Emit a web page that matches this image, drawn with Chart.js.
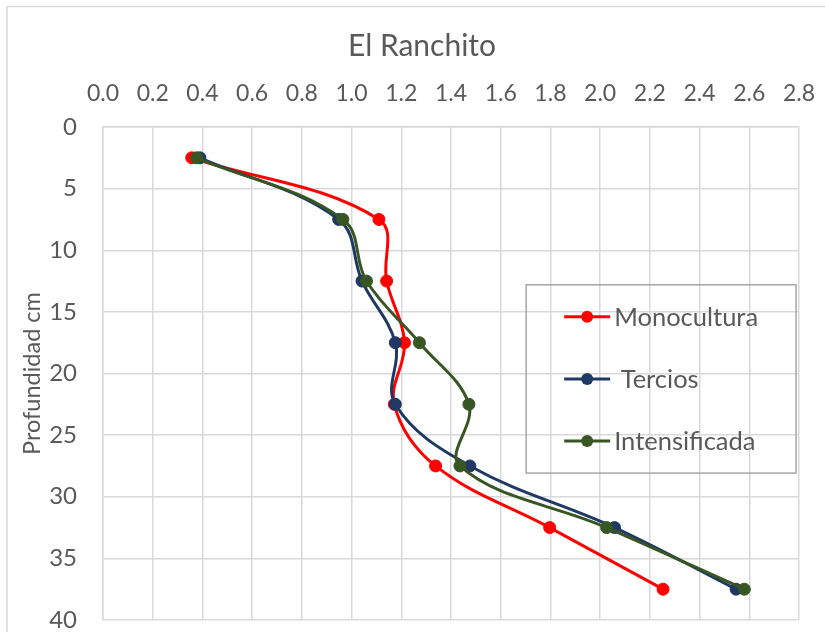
<!DOCTYPE html>
<html>
<head>
<meta charset="utf-8">
<script src="https://cdn.jsdelivr.net/npm/chart.js@4"></script>
<style>
  html, body { margin: 0; padding: 0; background: #ffffff; }
  #wrap { width: 825px; height: 632px; position: relative; }
</style>
</head>
<body>
<div id="wrap"><canvas id="c" width="825" height="632"></canvas></div>
<script>
// Depth of each sample (cm) and the measured value per management system
const depths = [2.5, 7.5, 12.5, 17.5, 22.5, 27.5, 32.5, 37.5];
const monocultura   = [0.357, 1.110, 1.141, 1.213, 1.172, 1.338, 1.797, 2.253];
const tercios       = [0.390, 0.948, 1.042, 1.176, 1.176, 1.476, 2.058, 2.547];
const intensificada = [0.377, 0.965, 1.060, 1.273, 1.472, 1.436, 2.026, 2.580];

const seriesNames  = ['Monocultura', ' Tercios', 'Intensificada'];
const seriesColors = ['#ff0000', '#1f3864', '#375623'];
const xTicks = [0.0, 0.2, 0.4, 0.6, 0.8, 1.0, 1.2, 1.4, 1.6, 1.8, 2.0, 2.2, 2.4, 2.6, 2.8];
const yTicks = [0, 5, 10, 15, 20, 25, 30, 35, 40];

const FONT = 'Lato, "Liberation Sans", sans-serif';
const TEXT = '#595959';
const GRID = '#d9d9d9';

function pts(values) {
  return values.map((v, i) => ({ x: v, y: depths[i] }));
}

const allSeries = [monocultura, tercios, intensificada];
const datasets = allSeries.map((vals, i) => ({
  label: seriesNames[i],
  data: pts(vals),
  showLine: true,
  borderColor: seriesColors[i],
  backgroundColor: seriesColors[i],
  pointBackgroundColor: seriesColors[i],
  pointBorderColor: seriesColors[i],
  borderWidth: 3,
  pointRadius: 6,
  pointBorderWidth: 1,
  tension: 0.38,
  order: 3 - i
}));

// keep the plot rectangle fixed: no extra room for overhanging labels
function noLabelPadding(scale) {
  scale.paddingLeft = 0;
  scale.paddingRight = 0;
  scale.paddingTop = 0;
  scale.paddingBottom = 0;
}

// Outer frame, chart title and the boxed legend inside the plot
const decorations = {
  id: 'decorations',
  beforeDraw(chart) {
    const ctx = chart.ctx;
    ctx.save();
    ctx.strokeStyle = GRID;
    ctx.lineWidth = 1.5;
    ctx.beginPath();
    ctx.moveTo(7, 632);
    ctx.lineTo(7, 6.5);
    ctx.lineTo(825, 6.5);
    ctx.stroke();
    ctx.restore();
  },
  afterDraw(chart) {
    const ctx = chart.ctx;
    const a = chart.chartArea;
    ctx.save();
    // title
    ctx.fillStyle = TEXT;
    ctx.font = '30px ' + FONT;
    ctx.textAlign = 'center';
    ctx.textBaseline = 'middle';
    ctx.fillText('El Ranchito', 422, 46);

    // legend box
    const w = a.right - a.left, h = a.bottom - a.top;
    const bx = a.left + w * 0.608, by = a.top + h * 0.32;
    const bw = a.right - 3 - bx, bh = a.top + h * 0.702 - by;
    ctx.strokeStyle = '#a6a6a6';
    ctx.lineWidth = 1.5;
    ctx.strokeRect(bx, by, bw, bh);

    const rows = [a.top + h * 0.385, a.top + h * 0.511, a.top + h * 0.637];
    const lx0 = bx + 38, lx1 = bx + 84, mx = bx + 61;
    ctx.font = '25.5px ' + FONT;
    ctx.textAlign = 'left';
    rows.forEach((ry, i) => {
      ctx.strokeStyle = seriesColors[i];
      ctx.fillStyle = seriesColors[i];
      ctx.lineWidth = 3;
      ctx.beginPath();
      ctx.moveTo(lx0, ry);
      ctx.lineTo(lx1, ry);
      ctx.stroke();
      ctx.beginPath();
      ctx.arc(mx, ry, 6, 0, Math.PI * 2);
      ctx.fill();
      ctx.fillStyle = TEXT;
      ctx.fillText(seriesNames[i], bx + 88, ry + 1);
    });
    ctx.restore();
  }
};

new Chart(document.getElementById('c'), {
  type: 'scatter',
  data: { datasets },
  options: {
    responsive: false,
    animation: false,
    layout: { padding: { left: 0, right: 26, top: 0, bottom: 12 } },
    plugins: {
      legend: { display: false },
      title: { display: false },
      tooltip: { enabled: false }
    },
    scales: {
      x: {
        type: 'linear',
        position: 'top',
        min: 0,
        max: 2.8,
        afterBuildTicks(scale) { scale.ticks = xTicks.map(v => ({ value: v })); },
        afterFit(scale) { scale.height = 127; noLabelPadding(scale); },
        ticks: {
          color: TEXT,
          font: { family: FONT, size: 23 },
          padding: 20,
          maxRotation: 0,
          autoSkip: false,
          callback: v => Number(v).toFixed(1)
        },
        grid: { color: GRID, lineWidth: 1.5, drawTicks: false },
        border: { color: GRID, width: 1.5 }
      },
      y: {
        type: 'linear',
        position: 'left',
        reverse: true,
        min: 0,
        max: 40,
        afterBuildTicks(scale) { scale.ticks = yTicks.map(v => ({ value: v })); },
        afterFit(scale) { scale.width = 103; noLabelPadding(scale); },
        title: {
          display: true,
          text: 'Profundidad cm',
          color: TEXT,
          font: { family: FONT, size: 23.5 },
          padding: { top: 18, bottom: 0 }
        },
        ticks: {
          color: TEXT,
          font: { family: FONT, size: 24 },
          padding: 26,
          autoSkip: false
        },
        grid: { color: GRID, lineWidth: 1.5, drawTicks: false },
        border: { color: GRID, width: 1.5 }
      }
    }
  },
  plugins: [decorations]
});
</script>
</body>
</html>
